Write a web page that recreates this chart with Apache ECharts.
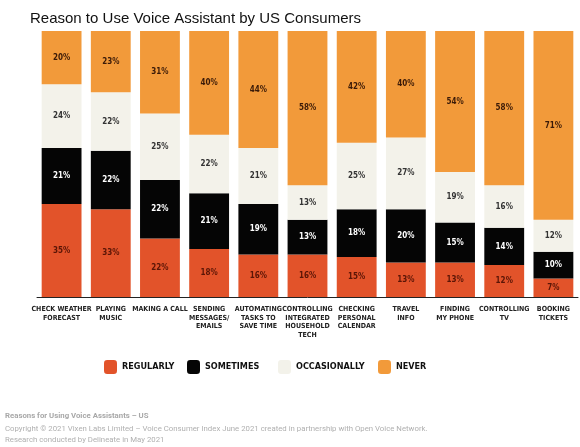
<!DOCTYPE html>
<html lang="en">
<head>
    <meta charset="UTF-8">
    <title>Reason to Use Voice Assistant</title>
    <script src="https://cdn.jsdelivr.net/npm/echarts@6/dist/echarts.min.js"></script>
    <style type="text/css">
        *{ margin: 0; padding: 0; }
        body{ background: #fff; }
        #chart{ width: 580px; height: 447px; }
    </style>
</head>
<body>
    <div id="chart"></div>
</body>
<script>
    var categories = ['CHECK WEATHER\nFORECAST', 'PLAYING\nMUSIC', 'MAKING A CALL', 'SENDING\nMESSAGES/\nEMAILS',
        'AUTOMATING\nTASKS TO\nSAVE TIME', 'CONTROLLING\nINTEGRATED\nHOUSEHOLD\nTECH', 'CHECKING\nPERSONAL\nCALENDAR',
        'TRAVEL\nINFO', 'FINDING\nMY PHONE', 'CONTROLLING\nTV', 'BOOKING\nTICKETS'];
    var regularly    = [35, 33, 22, 18, 16, 16, 15, 13, 13, 12, 7];
    var sometimes    = [21, 22, 22, 21, 19, 13, 18, 20, 15, 14, 10];
    var occasionally = [24, 22, 25, 22, 21, 13, 25, 27, 19, 16, 12];
    var never        = [20, 23, 31, 40, 44, 58, 42, 40, 54, 58, 71];

    var condensed = '"DejaVu Sans Condensed", sans-serif';

    // a series per answer, stacked to 100%
    function makeSeries(name, data, color, labelColor) {
        return {
            name: name,
            type: 'bar',
            stack: 'all',
            barCategoryGap: '19%',
            data: data,
            itemStyle: { color: color },
            label: {
                show: true,
                position: 'inside',
                formatter: '{c}%',
                color: labelColor,
                fontFamily: condensed,
                fontWeight: 'bold',
                fontSize: 8
            }
        };
    }

    function makeLegend(name, left) {
        return {
            data: [name],
            left: left,
            top: 360,
            padding: 0,
            itemWidth: 13,
            itemHeight: 14,
            itemGap: 0,
            textStyle: { fontFamily: condensed, fontWeight: 'bold', fontSize: 9, color: '#111' }
        };
    }

    var myChart = echarts.init(document.getElementById('chart'), null, { renderer: 'canvas' });
    var option = {
        backgroundColor: '#fff',
        animation: false,
        title: {
            text: 'Reason to Use Voice Assistant by US Consumers',
            left: 25,
            top: 6,
            textStyle: { fontFamily: '"Liberation Sans", Arial, sans-serif', fontWeight: 'normal', fontSize: 15, color: '#111' }
        },
        legend: [
            makeLegend('REGULARLY', 104),
            makeLegend('SOMETIMES', 187),
            makeLegend('OCCASIONALLY', 278),
            makeLegend('NEVER', 378)
        ],
        grid: { left: 37, right: 2, top: 31, bottom: 150, containLabel: false },
        xAxis: {
            type: 'category',
            data: categories,
            axisLine: { lineStyle: { color: '#222', width: 1 } },
            axisTick: { show: false },
            axisLabel: {
                interval: 0,
                margin: 8,
                color: '#222',
                fontFamily: condensed,
                fontWeight: 'bold',
                fontSize: 7,
                lineHeight: 8.5
            }
        },
        yAxis: { type: 'value', min: 0, max: 100, show: false, splitLine: { show: false } },
        series: [
            makeSeries('REGULARLY', regularly, '#E2532A', '#5a1506'),
            makeSeries('SOMETIMES', sometimes, '#050505', '#ffffff'),
            makeSeries('OCCASIONALLY', occasionally, '#F3F2EA', '#333333'),
            makeSeries('NEVER', never, '#F29A3A', '#3a1a08')
        ],
        graphic: [
            {
                type: 'text', left: 5, top: 412,
                style: { text: 'Reasons for Using Voice Assistants \u2013 US', fill: '#a8a8a8',
                    font: 'bold 7.8px "Roboto", sans-serif' }
            },
            {
                type: 'text', left: 5, top: 424,
                style: { text: 'Copyright \u00a9 2021 Vixen Labs Limited \u2013 Voice Consumer Index June 2021 created in partnership with Open Voice Network.\nResearch conducted by Delineate in May 2021',
                    fill: '#b0b0b0', font: '7.8px "Roboto", sans-serif', lineHeight: 11 }
            }
        ]
    };
    myChart.setOption(option);
</script>
</html>
